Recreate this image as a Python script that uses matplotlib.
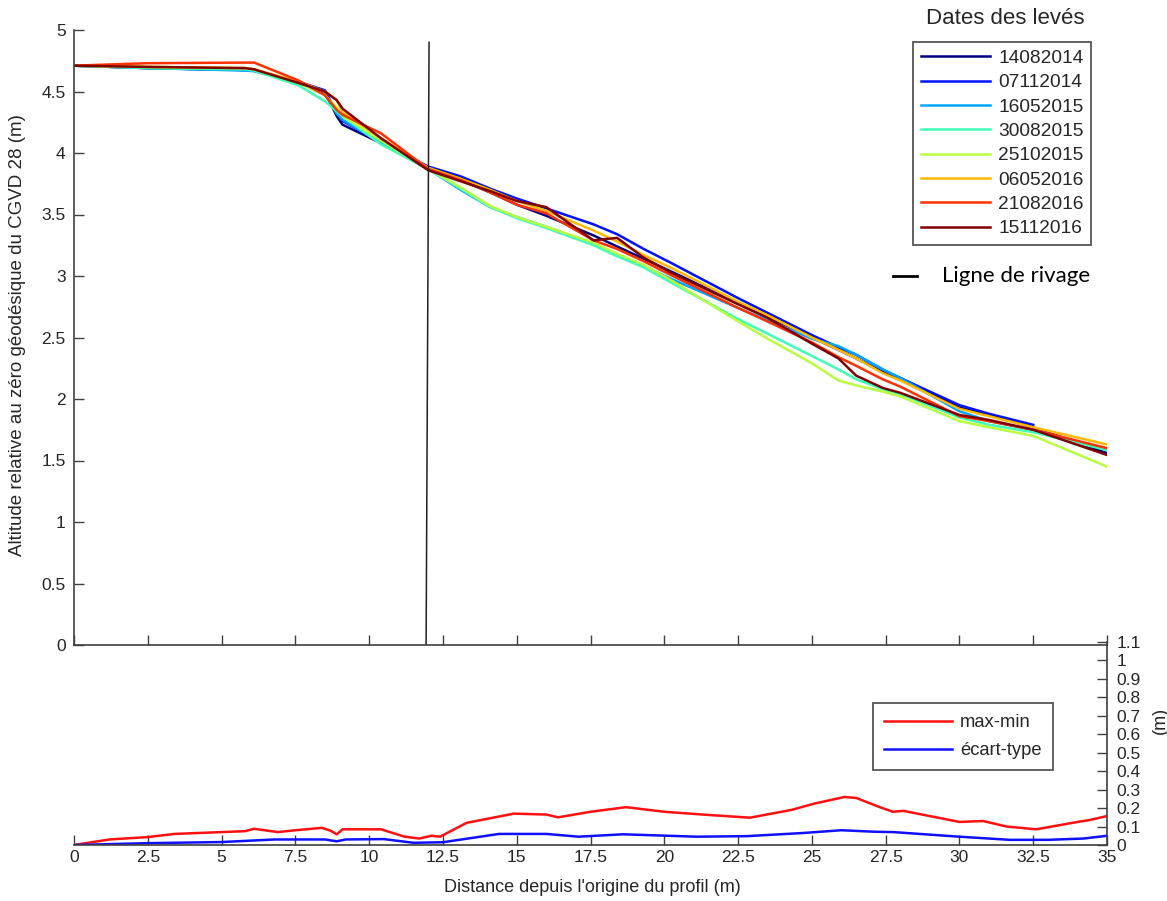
import numpy as np
import matplotlib
matplotlib.use("Agg")
import matplotlib.pyplot as plt
from matplotlib.lines import Line2D
from matplotlib.ticker import FuncFormatter

plt.rcParams['font.family'] = ['Liberation Sans', 'DejaVu Sans']

# distance along profile (m)
dist = [0, 2.5, 5.8, 6.1, 7.6, 8.5, 8.9, 9.1, 10.4, 12, 13.1, 14.1, 15, 16, 17.6, 18.4,
        19.3, 20.2, 22.5, 23.5, 25, 25.9, 26.5, 27.4, 28, 30, 31, 32.5, 35]

dates = ['14082014', '07112014', '16052015', '30082015',
         '25102015', '06052016', '21082016', '15112016']

z_14082014 = [4.71, 4.69, 4.675, 4.67, 4.57, 4.50, 4.30, 4.23, 4.08, 3.87, 3.78, 3.68, 3.58, 3.49,
              3.33, 3.24, 3.14, 3.04, 2.78, 2.67, 2.50, 2.40, 2.33, 2.22, 2.17, 1.93, 1.87, 1.77, 1.56]
z_07112014 = [4.71, 4.69, 4.675, 4.67, 4.58, 4.51, 4.33, 4.26, 4.09, 3.89, 3.81, 3.71, 3.63, 3.55,
              3.42, 3.34, 3.22, 3.11, 2.82, 2.70, 2.52, 2.42, 2.36, 2.24, 2.17, 1.95, 1.88, 1.79, np.nan]
z_16052015 = [4.71, 4.69, 4.67, 4.665, 4.57, 4.48, 4.32, 4.27, 4.08, 3.87, 3.70, 3.56, 3.48, 3.40,
              3.26, 3.17, 3.08, 2.98, 2.74, 2.64, 2.49, 2.43, 2.36, 2.24, 2.17, 1.90, 1.82, 1.75, 1.59]
z_30082015 = [4.71, 4.69, 4.68, 4.67, 4.55, 4.42, 4.34, 4.30, 4.07, 3.87, 3.71, 3.56, 3.47, 3.39,
              3.25, 3.16, 3.07, 2.95, 2.65, 2.53, 2.35, 2.24, 2.16, 2.08, 2.04, 1.85, 1.79, 1.73, 1.585]
z_25102015 = [4.71, 4.70, 4.69, 4.68, 4.57, 4.47, 4.37, 4.30, 4.10, 3.87, 3.72, 3.57, 3.48, 3.40,
              3.27, 3.18, 3.09, 2.97, 2.63, 2.49, 2.29, 2.15, 2.11, 2.06, 2.02, 1.82, 1.77, 1.70, 1.45]
z_06052016 = [4.71, 4.70, 4.69, 4.68, 4.58, 4.50, 4.43, 4.33, 4.12, 3.88, 3.79, 3.70, 3.61, 3.53,
              3.37, 3.28, 3.17, 3.07, 2.79, 2.68, 2.50, 2.40, 2.33, 2.21, 2.15, 1.92, 1.86, 1.77, 1.63]
z_21082016 = [4.71, 4.73, 4.735, 4.735, 4.59, 4.47, 4.35, 4.31, 4.16, 3.87, 3.78, 3.68, 3.58, 3.51,
              3.29, 3.22, 3.12, 3.01, 2.74, 2.63, 2.46, 2.34, 2.27, 2.16, 2.10, 1.86, 1.82, 1.75, 1.60]
z_15112016 = [4.71, 4.70, 4.69, 4.68, 4.57, 4.50, 4.43, 4.36, 4.12, 3.86, 3.77, 3.69, 3.61, 3.56,
              3.29, 3.31, 3.15, 3.03, 2.77, 2.66, 2.45, 2.33, 2.19, 2.09, 2.05, 1.87, 1.83, 1.75, 1.545]

profiles = [z_14082014, z_07112014, z_16052015, z_30082015,
            z_25102015, z_06052016, z_21082016, z_15112016]

# shoreline (slightly tilted line)
shore_x = [12.03, 11.93]
shore_z = [4.9, 0.0]

# max-min and standard deviation along profile
stat_x = [0, 1.2, 2.5, 3.4, 5, 5.8, 6.1, 6.9, 7.5, 8.4, 8.7, 8.9, 9.1, 10.4, 11.2, 11.7, 12.1, 12.4,
          13.3, 14.9, 16.0, 16.4, 17.5, 18.7, 20, 21.3, 22.9, 24.3, 25.1, 26.1, 26.5, 27.3, 27.75,
          28.1, 30, 30.8, 31.6, 32.6, 34.0, 34.4, 35]
maxmin = [0, 0.03, 0.043, 0.06, 0.07, 0.075, 0.088, 0.07, 0.08, 0.093, 0.077, 0.058, 0.085, 0.085,
          0.045, 0.035, 0.05, 0.045, 0.12, 0.17, 0.165, 0.15, 0.18, 0.205, 0.18, 0.165, 0.148, 0.19,
          0.225, 0.26, 0.255, 0.205, 0.18, 0.185, 0.125, 0.13, 0.10, 0.085, 0.125, 0.135, 0.157]
std_x = [0, 2.5, 5, 6.8, 8.5, 8.9, 9.2, 10.5, 11.5, 12.5, 14.4, 16, 17.1, 18.6, 21.1, 22.8, 24.7,
         26, 27.1, 27.75, 30, 31.7, 33, 34.2, 35]
ecart = [0, 0.01, 0.016, 0.03, 0.03, 0.02, 0.03, 0.032, 0.012, 0.015, 0.06, 0.06, 0.045, 0.058,
         0.045, 0.048, 0.065, 0.08, 0.072, 0.07, 0.045, 0.028, 0.028, 0.035, 0.05]

W, H = 1167, 901
fig = plt.figure(figsize=(W / 100, H / 100), dpi=100)
ax = fig.add_axes([74 / W, 256 / H, 1033 / W, 615 / H])
ax2 = fig.add_axes([74 / W, 56 / H, 1033 / W, 203 / H])
for a in (ax, ax2):
    a.patch.set_visible(False)

spine_c = '#404040'
text_c = '#262626'

colors = plt.cm.jet(np.linspace(0, 1, 8))
handles = []
for z, c, d in zip(profiles, colors, dates):
    h, = ax.plot(dist, z, color=c, lw=1.8, label=d)
    handles.append(h)
ax.plot(shore_x, shore_z, color='#202020', lw=1.1)

ax.set_xlim(0, 35)
ax.set_ylim(0, 5)
ax.set_xticks(np.arange(0, 35.1, 2.5))
ax.set_yticks(np.arange(0, 5.01, 0.5))
ax.yaxis.set_major_formatter(FuncFormatter(lambda v, p: '%g' % v))
ax.tick_params(axis='x', direction='in', length=7, width=1, color=spine_c, labelbottom=False)
ax.tick_params(axis='y', direction='in', length=7, width=1, color=spine_c, labelsize=12.5,
               labelcolor=text_c, pad=6)
for s in ('top', 'right'):
    ax.spines[s].set_visible(False)
for s in ('left', 'bottom'):
    ax.spines[s].set_color(spine_c)
    ax.spines[s].set_linewidth(1.2)

ax2.plot(stat_x, maxmin, color='#ff1010', lw=1.8, label='max-min')
ax2.plot(std_x, ecart, color='#1010ff', lw=1.8, label='écart-type')
ax2.set_xlim(0, 35)
ax2.set_ylim(0, 1.1)
ax2.set_xticks(np.arange(0, 35.1, 2.5))
ax2.set_yticks(np.arange(0, 1.101, 0.1))
ax2.xaxis.set_major_formatter(FuncFormatter(lambda v, p: '%g' % v))
ax2.yaxis.set_major_formatter(FuncFormatter(lambda v, p: '%g' % round(v, 1)))
ax2.yaxis.tick_right()
ax2.yaxis.set_label_position('right')
ax2.tick_params(axis='both', direction='in', length=7, width=1, color=spine_c, labelsize=12.5,
                labelcolor=text_c)
ax2.tick_params(axis='y', pad=7)
for s in ('top', 'left'):
    ax2.spines[s].set_visible(False)
for s in ('right', 'bottom'):
    ax2.spines[s].set_color(spine_c)
    ax2.spines[s].set_linewidth(1.2)

fig.text(18 / W, 1 - 335 / H, 'Altitude relative au zéro géodésique du CGVD 28 (m)',
         rotation=90, ha='center', va='center', fontsize=13.5, color=text_c)
fig.text(592 / W, 1 - 887 / H, "Distance depuis l'origine du profil (m)",
         ha='center', va='center', fontsize=13, color=text_c)
fig.text(1160 / W, 1 - 720 / H, '(m)', rotation=90, ha='center', va='center',
         fontsize=13, color=text_c)

leg = ax.legend(handles=handles, loc='upper left', bbox_to_anchor=(913 / W, 1 - 42 / H),
                bbox_transform=fig.transFigure, fontsize=13.8, handlelength=3.6,
                handletextpad=0.45, labelspacing=0.36, borderpad=0.4, fancybox=False,
                framealpha=1, edgecolor='#555555', borderaxespad=0)
leg.get_frame().set_linewidth(1.3)
for t in leg.get_texts():
    t.set_color(text_c)
fig.text(1005 / W, 1 - 19 / H, 'Dates des levés', ha='center', va='center',
         fontsize=16, color=text_c)

fig.add_artist(Line2D([893 / W, 917 / W], [1 - 276 / H, 1 - 276 / H], color='black', lw=2))
fig.text(942 / W, 1 - 276 / H, 'Ligne de rivage', ha='left', va='center',
         fontsize=16, color='black', family=['Lato', 'DejaVu Sans'])

leg2 = ax2.legend(loc='upper left', bbox_to_anchor=(873 / W, 1 - 703 / H),
                  bbox_transform=fig.transFigure, fontsize=13.2, handlelength=3.7,
                  handletextpad=0.45, labelspacing=0.6, borderpad=0.6, fancybox=False,
                  framealpha=1, edgecolor='#555555', borderaxespad=0)
leg2.get_frame().set_linewidth(1.3)
for t in leg2.get_texts():
    t.set_color(text_c)

fig.savefig('out.png', dpi=100)
